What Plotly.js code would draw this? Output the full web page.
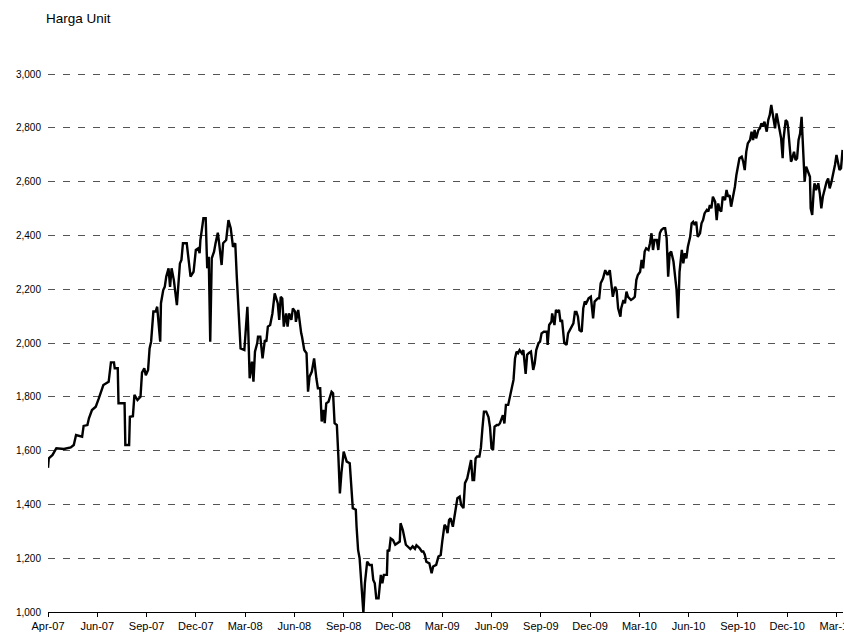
<!DOCTYPE html>
<html><head><meta charset="utf-8">
<script src="https://cdn.plot.ly/plotly-3.0.1.min.js"></script>
<style>html,body{margin:0;padding:0;background:#fff}#chart{width:844px;height:635px}</style>
</head><body><div id="chart"></div>
<script>
// trading-day index (65 trading days between quarterly tick labels)
const tradingDay = [0,1,6,11,21,30,34,37,45,47,52,54,58,63,67,73,80,83,87,88,92,93,101,102,107,108,112,114,118,122,124,127,129,132,134,136,139,142,144,148,149,152,154,156,159,161,163,166,170,174,176,178,183,185,188,192,195,198,200,201,205,208,210,212,214,216,219,221,224,226,229,231,235,238,241,244,247,249,252,254,259,261,263,264,266,269,271,273,276,277,280,283,286,288,290,293,296,299,303,305,307,309,311,314,316,318,321,323,326,327,330,334,335,338,341,343,345,348,351,354,356,359,361,363,365,367,370,374,376,378,381,383,385,387,390,394,398,402,406,407,409,411,414,416,418,421,424,427,429,431,433,436,439,441,443,447,448,450,452,455,458,461,464,465,468,472,475,478,481,484,486,488,490,493,495,497,499,503,506,508,512,515,518,520,523,525,527,529,531,534,537,540,543,545,548,550,553,555,558,560,562,564,566,569,571,573,575,578,581,583,585,587,589,592,594,596,598,600,602,604,607,609,611,614,616,618,620,622,625,627,630,632,634,637,640,642,644,647,649,651,654,658,659,661,664,665,668,670,672,674,676,678,681,684,686,688,690,693,695,697,699,701,704,706,708,710,713,716,719,721,725,727,729,732,735,738,741,743,745,748,750,752,755,756,759,761,763,765,769,772,774,776,778,781,783,785,787,789,792,794,796,798,800,803,805,807,809,812,814,816,818,820,822,825,827,829,831,833,836,838,840,842,844,847,849,851,853,855,857,860,862,864,866,869,871,873,875,877,880,882,884,886,888,890,893,895,897,899,901,904,906,908,910,912,915,917,919,921,923,926,928,930,932,934,937,939,941,943,945,948,950,952,954,956,959,961,963,965,967,969,970,973,975,976,978,980,981,984,986,988,990,992,994,995,997,998,1000,1002,1005,1006,1008,1010,1011,1013,1016,1018,1020,1022,1024,1027,1029,1031,1033,1035,1038,1040,1042,1044,1046,1048];
const unitPrice = [1536,1571,1584,1609,1606,1612,1621,1658,1652,1692,1695,1720,1751,1763,1794,1844,1856,1928,1928,1906,1906,1776,1776,1621,1621,1726,1728,1807,1788,1800,1890,1906,1880,1900,1980,2005,2117,2117,2135,2005,2148,2197,2209,2247,2278,2209,2278,2234,2141,2296,2309,2371,2371,2315,2247,2265,2346,2352,2334,2383,2464,2464,2278,2321,2005,2315,2340,2371,2410,2365,2290,2371,2383,2457,2427,2358,2371,2247,2079,1980,1974,2073,2135,2060,1869,1931,1856,1968,2000,2024,2024,1943,2011,2005,2061,2067,2110,2185,2148,2086,2172,2166,2061,2110,2061,2110,2086,2129,2117,2079,2123,2036,2024,1974,1962,1819,1875,1894,1943,1868,1832,1832,1708,1751,1702,1776,1782,1819,1813,1702,1695,1578,1441,1516,1596,1559,1553,1386,1380,1317,1231,1200,1095,997,1107,1187,1175,1175,1119,1107,1051,1051,1138,1107,1138,1138,1231,1225,1274,1268,1250,1256,1262,1330,1305,1250,1241,1234,1244,1235,1248,1244,1238,1225,1225,1213,1187,1181,1144,1169,1175,1206,1212,1262,1324,1317,1293,1342,1348,1317,1367,1423,1429,1398,1386,1479,1497,1528,1565,1491,1491,1571,1578,1578,1611,1683,1745,1745,1725,1688,1609,1602,1689,1695,1695,1701,1714,1732,1701,1770,1770,1794,1825,1863,1943,1968,1962,1974,1962,1974,1885,1956,1962,1968,1900,1925,1974,2000,2005,2036,2042,2042,1993,2067,2079,2110,2067,2123,2117,2123,2079,2086,2000,1993,2036,2048,2061,2073,2116,2116,2098,2048,2042,2129,2154,2148,2166,2172,2092,2154,2166,2166,2222,2240,2271,2253,2271,2216,2172,2209,2197,2129,2098,2129,2160,2148,2191,2172,2160,2166,2172,2234,2253,2265,2309,2278,2340,2352,2346,2371,2408,2346,2383,2383,2346,2408,2420,2427,2427,2389,2247,2334,2340,2303,2260,2200,2092,2265,2346,2296,2334,2315,2358,2395,2445,2451,2439,2451,2395,2408,2445,2457,2482,2495,2489,2513,2501,2544,2525,2457,2519,2495,2489,2544,2532,2569,2544,2550,2507,2544,2581,2625,2656,2687,2693,2674,2643,2711,2742,2755,2786,2755,2792,2761,2792,2798,2817,2805,2823,2786,2829,2848,2885,2848,2798,2854,2817,2786,2761,2687,2755,2829,2823,2805,2748,2674,2680,2711,2680,2687,2755,2779,2841,2779,2693,2600,2656,2637,2618,2501,2476,2569,2594,2569,2594,2556,2501,2544,2569,2600,2612,2575,2594,2618,2662,2699,2674,2643,2650,2718];
const tickDays = [0,65,130,195,260,325,390,455,520,585,650,715,780,845,910,975,1040];
const tickLabels = ['Apr-07','Jun-07','Sep-07','Dec-07','Mar-08','Jun-08','Sep-08','Dec-08','Mar-09','Jun-09','Sep-09','Dec-09','Mar-10','Jun-10','Sep-10','Dec-10','Mar-11'];
const yTicks = [1000,1200,1400,1600,1800,2000,2200,2400,2600,2800,3000];

const FONT = 'Liberation Sans, Arial, Helvetica, sans-serif';
const trace = {
  x: tradingDay, y: unitPrice, type: 'scatter', mode: 'lines',
  line: {color: '#000000', width: 2.4}, hoverinfo: 'skip'
};
const layout = {
  width: 844, height: 635,
  margin: {l: 48, r: 1, t: 73, b: 23, pad: 0},
  paper_bgcolor: '#ffffff', plot_bgcolor: '#ffffff',
  showlegend: false,
  font: {family: FONT, color: '#000000'},
  title: {text: 'Harga Unit', xref: 'container', yref: 'container',
          x: 46/844, xanchor: 'left', y: 1 - 18/635, yanchor: 'middle',
          font: {family: FONT, size: 13.5, color: '#000000'}},
  xaxis: {range: [0, 1048.6], tickmode: 'array', tickvals: tickDays, ticktext: tickLabels,
          showgrid: false, zeroline: false, showline: true, linecolor: '#000000', linewidth: 1,
          ticks: 'outside', ticklen: 4, tickcolor: '#000000', tickwidth: 1,
          ticklabeloverflow: 'allow',
          tickfont: {family: FONT, size: 11, color: '#000000'}, fixedrange: true},
  yaxis: {range: [1000, 3004], tickmode: 'array', tickvals: yTicks, tickformat: ',d',
          showgrid: true, gridcolor: '#555555', gridwidth: 1, griddash: '7px,8px',
          zeroline: false, showline: false, ticks: '',
          ticklabelstandoff: 6,
          tickfont: {family: FONT, size: 10, color: '#000000'}, fixedrange: true}
};
Plotly.newPlot('chart', [trace], layout, {staticPlot: true, displayModeBar: false});
</script>
</body></html>
